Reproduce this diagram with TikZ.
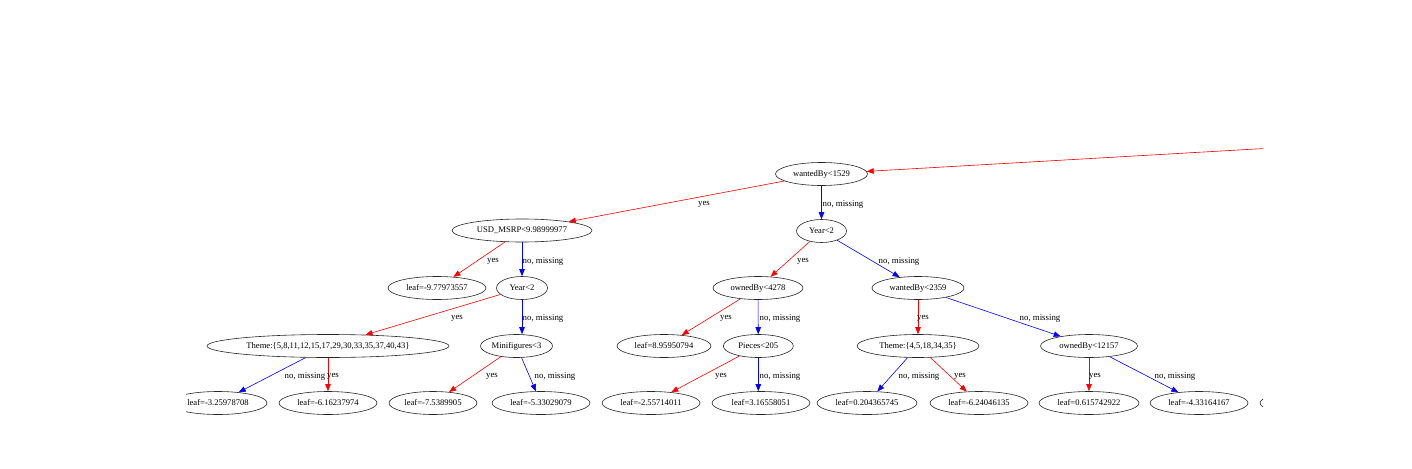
\documentclass[tikz,border=0pt]{standalone}
\usepackage{fontspec}
\setmainfont{Liberation Serif}
\usetikzlibrary{shapes.geometric,arrows.meta}
\begin{document}
\begin{tikzpicture}[x=1pt,y=-1pt,
  tn/.style={ellipse, draw=black!85, line width=0.6pt, inner sep=0pt, minimum height=23pt, font=\fontsize{8.6}{9}\selectfont},
  yesE/.style={draw=red, line width=0.6pt, -{Triangle[length=7pt,width=5.5pt]}},
  noE/.style={draw=blue, line width=0.6pt, -{Triangle[length=7pt,width=5.5pt]}},
  lab/.style={inner sep=0pt, yshift=-1.5pt, font=\fontsize{8.8}{9}\selectfont}
]
\useasboundingbox (0,0) rectangle (1412,468);
\begin{scope}
\clip (186,0) rectangle (1263,468);
% nodes
\node[tn, minimum width=92pt]  (w1529)    at (821.5,174) {wantedBy<1529};
\node[tn, minimum width=50pt]  (yr2a)     at (821.5,231) {Year<2};
\node[tn, minimum width=140pt] (usd)      at (522,230.5) {USD\_MSRP<9.98999977};
\node[tn, minimum width=98pt]  (leafA)    at (437,288)   {leaf=-9.77973557};
\node[tn, minimum width=51pt]  (yr2b)     at (522,288)   {Year<2};
\node[tn, minimum width=242pt] (themeA)   at (328,346)   {Theme:\{5,8,11,12,15,17,29,30,33,35,37,40,43\}};
\node[tn, minimum width=72pt]  (mini)     at (516.5,346) {Minifigures<3};
\node[tn, minimum width=98pt]  (leafB)    at (218,403)   {leaf=-3.25978708};
\node[tn, minimum width=98pt]  (leafC)    at (328,403)   {leaf=-6.16237974};
\node[tn, minimum width=88pt]  (leafD)    at (433,403)   {leaf=-7.5389905};
\node[tn, minimum width=98pt]  (leafE)    at (541,403)   {leaf=-5.33029079};
\node[tn, minimum width=90pt]  (own4278)  at (758,288)   {ownedBy<4278};
\node[tn, minimum width=92pt]  (want2359) at (918,288)   {wantedBy<2359};
\node[tn, minimum width=94pt]  (leafF)    at (664,346)   {leaf=8.95950794};
\node[tn, minimum width=70pt]  (pieces)   at (758.3,346) {Pieces<205};
\node[tn, minimum width=122pt] (themeB)   at (918,346)   {Theme:\{4,5,18,34,35\}};
\node[tn, minimum width=97pt]  (own12157) at (1089,346)  {ownedBy<12157};
\node[tn, minimum width=98pt]  (leafG)    at (651,403)   {leaf=-2.55714011};
\node[tn, minimum width=98pt]  (leafH)    at (761,403)   {leaf=3.16558051};
\node[tn, minimum width=100pt] (leafI)    at (867,403)   {leaf=0.204365745};
\node[tn, minimum width=98pt]  (leafJ)    at (979,403)   {leaf=-6.24046135};
\node[tn, minimum width=100pt] (leafK)    at (1089,403)  {leaf=0.615742922};
\node[tn, minimum width=98pt]  (leafL)    at (1199,403)  {leaf=-4.33164167};
\node[tn, minimum width=98pt]  (leafM)    at (1309,403)  {};
\coordinate (parent) at (1829,116);
% edges
\draw[yesE] (parent) -- (w1529);
\draw[yesE] (w1529) -- (usd);
\draw[noE]  (w1529) -- (yr2a);
\draw[yesE] (yr2a) -- (own4278);
\draw[noE]  (yr2a) -- (want2359);
\draw[yesE] (usd) -- (leafA);
\draw[noE]  (usd) -- (yr2b);
\draw[yesE] (yr2b) -- (themeA);
\draw[noE]  (yr2b.south) -- (yr2b.south |- mini.north);
\draw[noE]  (themeA) -- (leafB);
\draw[yesE] (themeA) -- (leafC);
\draw[yesE] (mini) -- (leafD);
\draw[noE]  (mini) -- (leafE);
\draw[yesE] (own4278) -- (leafF);
\draw[noE]  (own4278) -- (pieces);
\draw[yesE] (pieces) -- (leafG);
\draw[noE]  (pieces.south) -- (pieces.south |- leafH.north);
\draw[yesE] (want2359) -- (themeB);
\draw[noE]  (want2359) -- (own12157);
\draw[noE]  (themeB) -- (leafI);
\draw[yesE] (themeB) -- (leafJ);
\draw[yesE] (own12157) -- (leafK);
\draw[noE]  (own12157) -- (leafL);
% labels
\node[lab] (l1)  at (704,203) {yes};
\node[lab] (l2)  at (843,203) {no, missing};
\node[lab] (l3)  at (803,260) {yes};
\node[lab] (l4)  at (899,260) {no, missing};
\node[lab] (l5)  at (493,260) {yes};
\node[lab] (l6)  at (543,260) {no, missing};
\node[lab] (l7)  at (457,317) {yes};
\node[lab] (l8)  at (543,317) {no, missing};
\node[lab] (l9)  at (305,375) {no, missing};
\node[lab] (l10) at (333,375) {yes};
\node[lab] (l11) at (492,375) {yes};
\node[lab] (l12) at (555,375) {no, missing};
\node[lab] (l13) at (726,317) {yes};
\node[lab] (l14) at (780,317) {no, missing};
\node[lab] (l15) at (721,375) {yes};
\node[lab] (l16) at (780,375) {no, missing};
\node[lab] (l17) at (923,317) {yes};
\node[lab] (l18) at (1040,317) {no, missing};
\node[lab] (l19) at (919,375) {no, missing};
\node[lab] (l20) at (960,375) {yes};
\node[lab] (l21) at (1095,375) {yes};
\node[lab] (l22) at (1175,375) {no, missing};
\end{scope}
\end{tikzpicture}
\end{document}
